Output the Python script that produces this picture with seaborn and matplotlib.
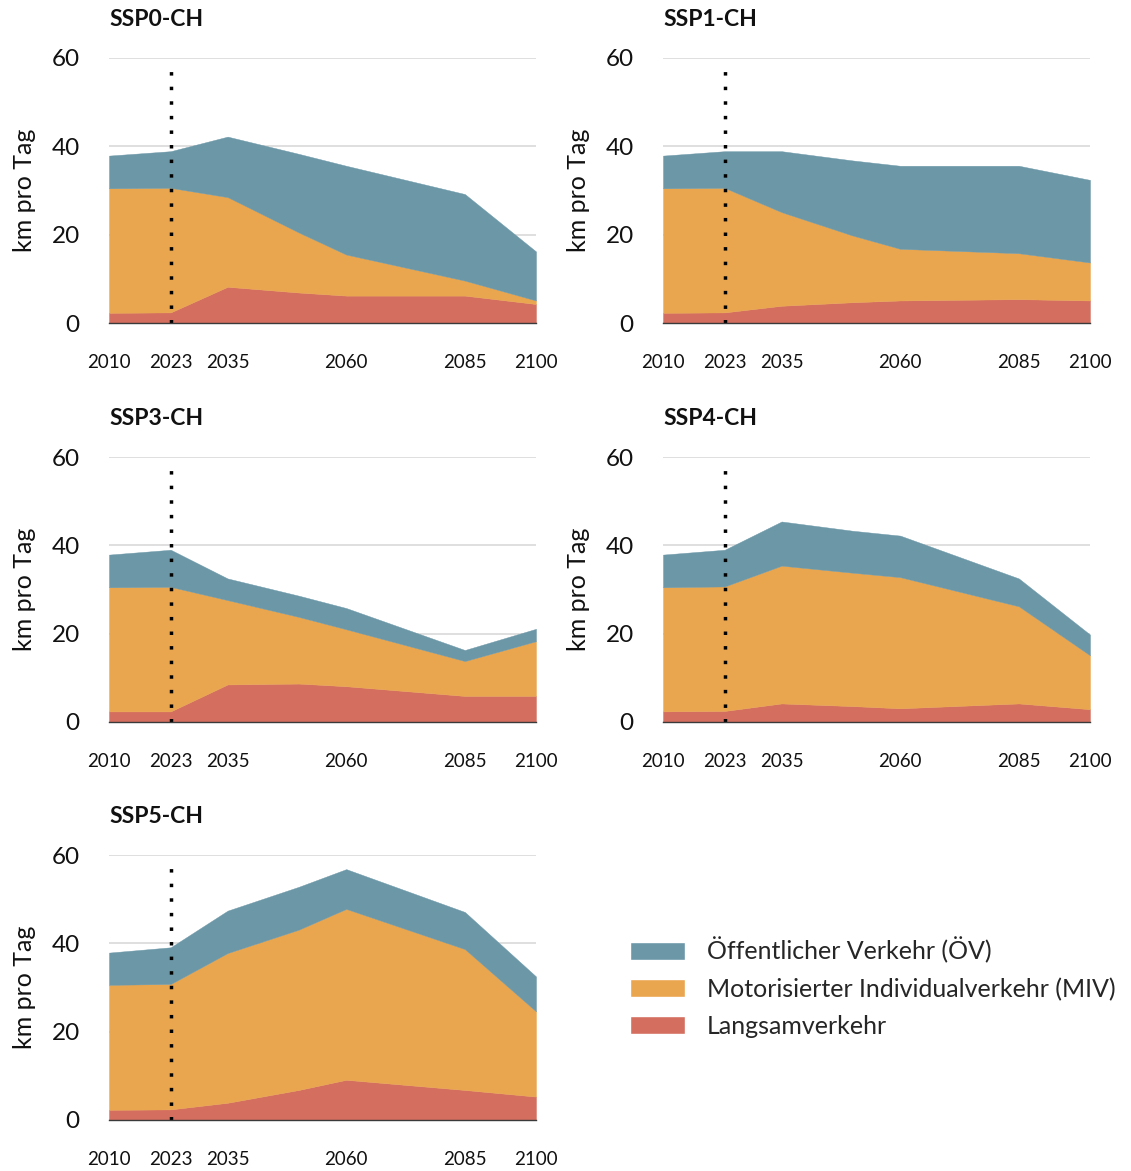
import numpy as np
import pandas as pd
import matplotlib.pyplot as plt
import seaborn as sns
from matplotlib.patches import Patch

# style
sns.set_theme(style="white")
plt.rcParams['font.family'] = ['Lato', 'DejaVu Sans']

# daten (km pro Tag)
jahre = [2010, 2023, 2035, 2050, 2060, 2085, 2100]
tick_jahre = [2010, 2023, 2035, 2060, 2085, 2100]

lv_ssp0 = [2.3, 2.4, 8.2, 6.9, 6.2, 6.2, 4.3]
miv_ssp0 = [28.2, 28.2, 20.3, 13.6, 9.3, 3.4, 0.8]
oev_ssp0 = [7.4, 8.3, 13.7, 17.8, 20.1, 19.6, 11.1]

lv_ssp1 = [2.3, 2.4, 3.9, 4.7, 5.1, 5.4, 5.1]
miv_ssp1 = [28.2, 28.2, 21.2, 15.1, 11.7, 10.4, 8.6]
oev_ssp1 = [7.4, 8.3, 13.8, 17.0, 18.8, 19.8, 18.7]

lv_ssp3 = [2.4, 2.4, 8.5, 8.7, 8.1, 5.9, 5.9]
miv_ssp3 = [28.1, 28.2, 19.1, 15.1, 12.9, 7.9, 12.4]
oev_ssp3 = [7.4, 8.4, 4.9, 4.8, 4.8, 2.5, 2.8]

lv_ssp4 = [2.4, 2.5, 4.2, 3.6, 3.1, 4.2, 2.9]
miv_ssp4 = [28.1, 28.2, 31.2, 30.2, 29.7, 22.0, 12.2]
oev_ssp4 = [7.4, 8.3, 10.0, 9.5, 9.4, 6.3, 4.7]

lv_ssp5 = [2.3, 2.4, 3.9, 6.8, 9.1, 6.8, 5.3]
miv_ssp5 = [28.3, 28.4, 33.9, 36.3, 38.7, 31.9, 19.3]
oev_ssp5 = [7.3, 8.3, 9.6, 9.7, 9.0, 8.4, 7.9]

szenarien = [
    ('SSP0-CH', lv_ssp0, miv_ssp0, oev_ssp0),
    ('SSP1-CH', lv_ssp1, miv_ssp1, oev_ssp1),
    ('SSP3-CH', lv_ssp3, miv_ssp3, oev_ssp3),
    ('SSP4-CH', lv_ssp4, miv_ssp4, oev_ssp4),
    ('SSP5-CH', lv_ssp5, miv_ssp5, oev_ssp5),
]

labels = ['Öffentlicher Verkehr (ÖV)', 'Motorisierter Individualverkehr (MIV)', 'Langsamverkehr']
farben = {'oev': '#6b97a7', 'miv': '#eaa54f', 'lv': '#d46e5f'}

W, H = 1131, 1171
fig = plt.figure(figsize=(W / 100, H / 100), dpi=100)

# achsen-positionen (links, unten) in pixel
pos = [(109, 323), (663, 323), (109, 722), (663, 722), (109, 1120)]
ax_w, ax_h = 427, 265

for (name, lv, miv, oev), (px, py) in zip(szenarien, pos):
    ax = fig.add_axes([px / W, 1 - py / H, ax_w / W, ax_h / H])
    df = pd.DataFrame({'Jahr': jahre, 'LV': lv, 'MIV': miv, 'OEV': oev})
    ax.stackplot(df['Jahr'], df['LV'], df['MIV'], df['OEV'],
                 colors=[farben['lv'], farben['miv'], farben['oev']],
                 edgecolor='face', linewidth=0.3, zorder=2)
    ax.axvline(2023, ymin=0, ymax=58 / 60, color='black',
               linestyle=(0, (1, 3.2)), linewidth=2.5, zorder=3)

    ax.set_xlim(2010, 2100)
    ax.set_ylim(0, 60)
    ax.set_xticks(tick_jahre)
    ax.set_yticks([0, 20, 40, 60])
    ax.yaxis.grid(True, color='#d9d9d9', linewidth=1.2)
    ax.set_axisbelow(True)
    for s in ['top', 'right', 'left']:
        ax.spines[s].set_visible(False)
    ax.spines['bottom'].set_color('#3a3a3a')
    ax.spines['bottom'].set_linewidth(1.0)
    ax.spines['bottom'].set_zorder(4)
    ax.tick_params(axis='x', length=0, pad=22, labelsize=13.5, labelcolor='#111111')
    ax.tick_params(axis='y', length=0, pad=21, labelsize=17.5, labelcolor='#111111')
    ax.set_ylabel('km pro Tag', fontsize=18, labelpad=11, color='#111111')
    ax.set_xlabel('')
    ax.text(0, 1.145, name, transform=ax.transAxes, fontsize=16.5,
            fontweight='bold', ha='left', va='center', color='#111111')

handles = [Patch(facecolor=farben['oev']), Patch(facecolor=farben['miv']),
           Patch(facecolor=farben['lv'])]
fig.legend(handles, labels, loc='upper left', bbox_to_anchor=(630 / W, 1 - 937 / H),
           frameon=False, fontsize=18, handlelength=2.2, handleheight=0.76,
           handletextpad=0.88, labelspacing=0.56, borderpad=0, borderaxespad=0)

plt.savefig('out.png', dpi=100)
plt.close()
